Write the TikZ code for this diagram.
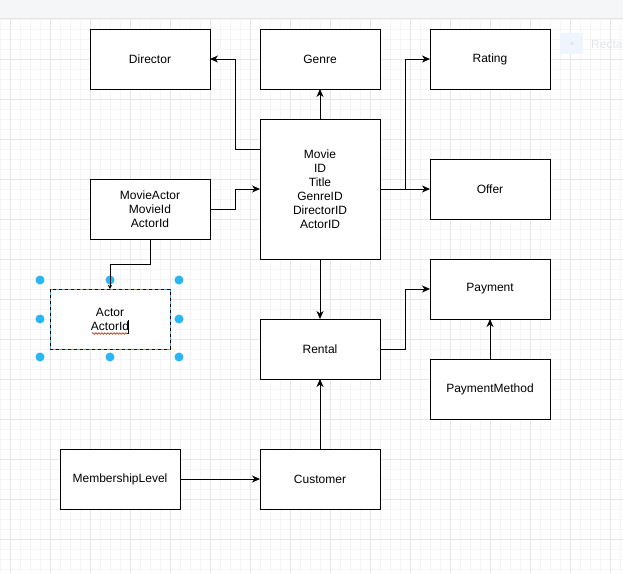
\documentclass[tikz,border=0pt]{standalone}
\usepackage{fontspec}
\setmainfont{Liberation Sans}
\usetikzlibrary{arrows.meta,calc,decorations.pathmorphing}
\definecolor{gridminor}{HTML}{F5F5F5}
\definecolor{gridmajor}{HTML}{E6E6E6}
\definecolor{barfill}{HTML}{F5F6F8}
\definecolor{barline}{HTML}{E4E5E7}
\definecolor{handle}{HTML}{29B6F2}
\definecolor{hintfill}{HTML}{EEF5FC}
\definecolor{hinttext}{HTML}{E2E6EA}
\tikzset{
  entity/.style={draw=black, line width=1pt, fill=white, rectangle,
    minimum width=120pt, minimum height=60pt, inner sep=0pt, outer sep=0pt,
    align=center, font=\fontsize{12}{14}\selectfont},
  link/.style={draw=black, line width=1pt, -{Stealth[length=8pt,width=7pt,inset=2.5pt]}},
  smalllink/.style={draw=black, line width=1pt, -{Stealth[length=4pt,width=4pt,inset=1pt]}},
  grip/.style={fill=handle, draw=none},
}
\begin{document}
\begin{tikzpicture}[x=1pt,y=-1pt]
\useasboundingbox (0,0) rectangle (623,573);
\clip (0,0) rectangle (623,573);
% canvas grid
\fill[white] (0,0) rectangle (623,573);
\foreach \gx in {0,10,...,620} \draw[gridminor, line width=1pt] (\gx,19) -- (\gx,573);
\foreach \gy in {19,29,...,569} \draw[gridminor, line width=1pt] (0,\gy) -- (623,\gy);
\foreach \gx in {10,50,...,610} \draw[gridmajor, line width=1pt] (\gx,19) -- (\gx,573);
\foreach \gy in {59,99,...,539} \draw[gridmajor, line width=1pt] (0,\gy) -- (623,\gy);
% toolbar strip
\fill[barfill] (0,0) rectangle (623,18);
\draw[barline, line width=1pt] (0,18.5) -- (623,18.5);
% shape hint at the right edge
\fill[hintfill] (560,33) rectangle (583,54);
\fill[hinttext] (572,43.5) circle (1.8);
\node[anchor=west, text=hinttext, font=\fontsize{12}{14}\selectfont, inner sep=0pt] (hint) at (591,44) {Recta};

% entities
\node[entity] (Director) at (150,59) {Director};
\node[entity] (Genre) at (320,59) {Genre};
\node[entity] (Rating) at (490,59) {Rating};
\node[entity, minimum height=140pt] (Movie) at (320,189) {Movie\\ID\\Title\\GenreID\\DirectorID\\ActorID};
\node[entity] (Offer) at (490,189) {Offer};
\node[entity] (MovieActor) at (150,209) {MovieActor\\MovieId\\ActorId};
\node[entity, draw=none] (Actor) at (110,319) {Actor\\ActorId};
\node[entity] (Rental) at (320,349) {Rental};
\node[entity] (Payment) at (490,289) {Payment};
\node[entity] (PaymentMethod) at (490,389) {PaymentMethod};
\node[entity] (MembershipLevel) at (120,479) {MembershipLevel};
\node[entity] (Customer) at (320,479) {Customer};

% selected Actor shape: dashed outline and grips
\draw[handle, line width=1pt] (Actor.north west) rectangle (Actor.south east);
\draw[black, line width=1pt, dash pattern=on 3pt off 3pt] (Actor.north west) rectangle (Actor.south east);
\foreach \hx/\hy in {40/280,110/280,179/280,40/319,179/319,40/357,110/357,179/357}
  \fill[grip] (\hx,\hy) circle (4.5);
% spell-check underline and text cursor in the Actor label
\draw[red!85!black, line width=0.6pt, decorate, decoration={snake, amplitude=0.8pt, segment length=3pt}] (92,333.5) -- (128,333.5);
\draw[black, line width=0.8pt] (128.5,320) -- (128.5,334);

% connectors
\draw[link] ($(Movie.north west)+(0,30)$) -- ++(-25,0) |- (Director.east);
\draw[link] (Movie.north) -- (Genre.south);
\draw[link] (Movie.east) -- ++(25,0) |- (Rating.west);
\draw[link] (Movie.east) -- (Offer.west);
\draw[link] (MovieActor.east) -- ++(25,0) |- (Movie.west);
\draw[smalllink] (MovieActor.south) -- ++(0,25) -| (Actor.north);
\draw[link] (Movie.south) -- (Rental.north);
\draw[link] (Rental.east) -- ++(25,0) |- (Payment.west);
\draw[link] (PaymentMethod.north) -- (Payment.south);
\draw[link] (MembershipLevel.east) -- (Customer.west);
\draw[link] (Customer.north) -- (Rental.south);
\end{tikzpicture}
\end{document}
